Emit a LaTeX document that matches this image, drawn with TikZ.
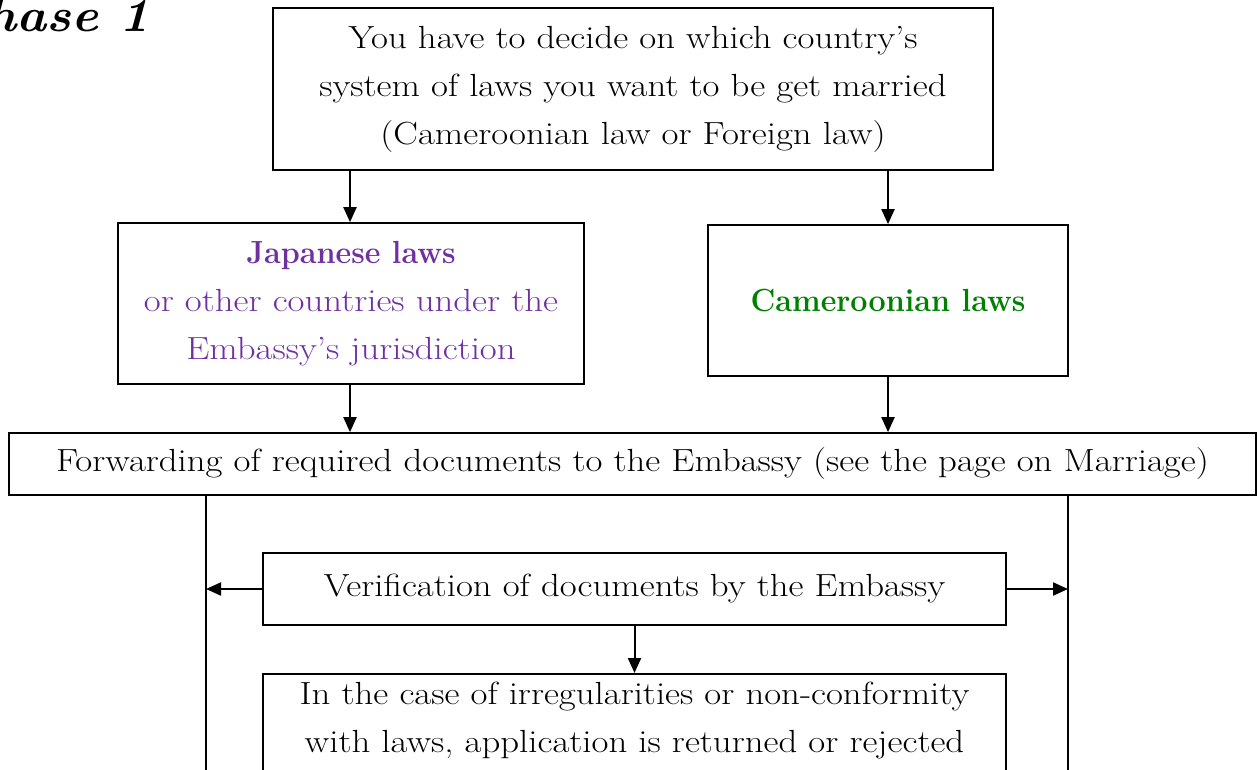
\documentclass[tikz,border=0pt]{standalone}
\usepackage{fontspec}
\setmainfont{Latin Modern Roman}[FakeStretch=1.15]
\usetikzlibrary{arrows.meta}
\definecolor{jpurple}{RGB}{112,48,160}
\definecolor{cgreen}{RGB}{0,128,0}
\newcommand{\narrowbf}[1]{\scalebox{0.83}[1]{\textbf{#1}}}
\begin{document}
\begin{tikzpicture}[x=1pt,y=-1pt,
  box/.style={draw,line width=1.7pt,inner sep=0pt,align=center,font=\fontsize{32}{48}\selectfont},
  arr/.style={line width=2pt,-{Triangle[length=15pt,width=13pt]}},
  ln/.style={line width=2pt}]
\useasboundingbox (0,0) rectangle (1257,769);
\clip (0,0) rectangle (1257,769);
\node[anchor=base east,inner sep=0pt,font=\fontsize{47}{50}\selectfont\bfseries\itshape] (ph) at (150,31) {\scalebox{0.94}[1]{Phase 1}};
\node[box,minimum width=720pt,minimum height=162pt] (top) at (633,89) {You have to decide on which country's\\system of laws you want to be get married\\(Cameroonian law or Foreign law)};
\node[box,minimum width=466pt,minimum height=161pt,text=jpurple] (jp) at (351,303.5) {\narrowbf{Japanese laws}\\or other countries under the\\Embassy's jurisdiction};
\node[box,minimum width=360pt,minimum height=151pt,text=cgreen] (cm) at (888,300.5) {\narrowbf{Cameroonian laws}};
\node[box,minimum width=1247pt,minimum height=62pt] (fw) at (632.5,464) {Forwarding of required documents to the Embassy (see the page on Marriage)};
\node[box,minimum width=743pt,minimum height=72pt] (vr) at (634.5,589) {Verification of documents by the Embassy};
\node[box,minimum width=743pt,minimum height=150pt,anchor=north] (ir) at (634.5,673) {};
\node[font=\fontsize{32}{48}\selectfont,align=center,anchor=north] (irt) at (634.5,678) {In the case of irregularities or non-conformity\\with laws, application is returned or rejected};
\coordinate (lt) at (350,170);
\coordinate (rt) at (888,170);
\draw[arr] (lt) -- (jp.north -| lt);
\draw[arr] (rt) -- (cm.north -| rt);
\draw[arr] (jp.south -| lt) -- (fw.north -| lt);
\draw[arr] (cm.south -| rt) -- (fw.north -| rt);
\coordinate (vl) at (206,495);
\coordinate (vrr) at (1068,495);
\coordinate (vlb) at (206,780);
\coordinate (vrb) at (1068,780);
\draw[ln] (vl) -- (vlb);
\draw[ln] (vrr) -- (vrb);
\draw[arr] (vr.west) -- (vr.west -| vl);
\draw[arr] (vr.east) -- (vr.east -| vrr);
\draw[arr] (vr.south) -- (ir.north);
\end{tikzpicture}
\end{document}
